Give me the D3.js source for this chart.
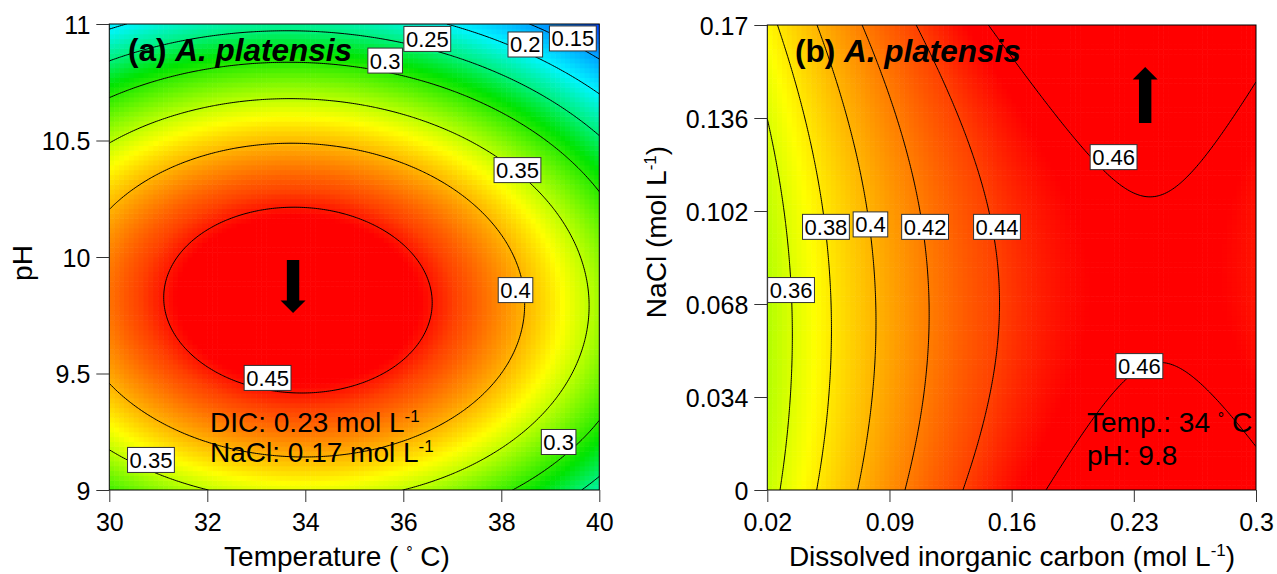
<!DOCTYPE html>
<html><head><meta charset="utf-8">
<script src="https://cdn.jsdelivr.net/npm/d3@7"></script>
<style>body{margin:0;background:#fff}</style>
</head><body><svg id="c" width="1277" height="574"></svg>
<script>
// ---------------- data ----------------
const tempTicks = [30, 32, 34, 36, 38, 40];
const phTicks = [9, 9.5, 10, 10.5, 11];
const dicTicks = [0.02, 0.09, 0.16, 0.23, 0.3];
const naclTicks = [0, 0.034, 0.068, 0.102, 0.136, 0.17];
const tempDomain = [30, 40];
const phDomain = [9, 11];
const dicDomain = [0.02, 0.3];
const naclDomain = [0, 0.17];
const levelsA = [0.15, 0.2, 0.25, 0.3, 0.35, 0.4, 0.45];
const levelsB = [0.36, 0.38, 0.4, 0.42, 0.44, 0.46];
// quadratic response surfaces  f = c0 + cxx*dx^2 + cyy*dy^2 + cxy*dx*dy  (dx,dy from the stationary point)
const stationaryA = [33.85, 9.815];          // Temperature, pH
const coefA = [0.477, -0.0036, -0.17, -0.0014];
const stationaryB = [0.2421, 0.0769];        // DIC, NaCl
const coefB = [0.458, -2.25, 2.163, -0.4215];
// contour labels: [level, x, y] in data units
const labelsA = [[0.25, 36.49, 10.936], [0.3, 35.63, 10.843], [0.2, 38.49, 10.912], [0.15, 39.46, 10.938],
  [0.35, 38.33, 10.373], [0.4, 38.29, 9.858], [0.3, 39.17, 9.206], [0.45, 33.23, 9.481], [0.35, 30.85, 9.129]];
const labelsB = [[0.36, 0.0336, 0.0731], [0.38, 0.0536, 0.0962], [0.4, 0.0791, 0.0971], [0.42, 0.1104, 0.0962],
  [0.44, 0.1516, 0.0962], [0.46, 0.2184, 0.1217], [0.46, 0.2332, 0.0453]];
// arrows: [x, yStart, yTip] in data units
const arrowA = [33.75, 9.987, 9.76];
const arrowB = [0.2365, 0.1342, 0.1546];
// colour ramp
const colorStops = [0.08, 0.14, 0.2, 0.25, 0.285, 0.32, 0.35, 0.372, 0.4, 0.42, 0.44, 0.455];
const colorRamp = ["rgb(0,40,255)", "rgb(0,150,255)", "rgb(0,245,255)", "rgb(0,240,120)", "rgb(0,228,0)",
  "rgb(100,245,0)", "rgb(190,255,0)", "rgb(255,255,0)", "rgb(255,180,0)", "rgb(255,125,0)", "rgb(255,65,0)", "rgb(255,0,0)"];

// ---------------- drawing ----------------
const FONT = '"Liberation Sans", Arial, Helvetica, sans-serif';
const svg = d3.select("#c").attr("font-family", FONT);
const color = d3.scaleLinear().domain(colorStops).range(colorRamp).clamp(true);

function surface(c, k) {
  return (x, y) => { const a = x - c[0], b = y - c[1]; return k[0] + k[1] * a * a + k[2] * b * b + k[3] * a * b; };
}

function panel(cfg) {
  const { xs, ys, f, levels, labels, id, xTicks, yTicks } = cfg;
  const g = svg.append("g");
  const [x0, x1] = xs.domain(), [y0, y1] = ys.domain();
  const [px0, px1] = xs.range(), [py0, py1] = ys.range(); // py0 bottom, py1 top

  svg.append("clipPath").attr("id", id).append("rect")
    .attr("x", px0).attr("y", py1).attr("width", px1 - px0).attr("height", py0 - py1);

  // heat map cells
  const nx = 100, ny = 96;
  const cw = (x1 - x0) / nx, ch = (y1 - y0) / ny;
  const wpx = Math.abs(xs(x0 + cw) - xs(x0)) + 0.6, hpx = Math.abs(ys(y0) - ys(y0 + ch)) + 0.6;
  const heat = g.append("g").attr("clip-path", `url(#${id})`);
  heat.selectAll("rect").data(d3.cross(d3.range(nx), d3.range(ny))).join("rect")
    .attr("x", d => xs(x0 + d[0] * cw))
    .attr("y", d => ys(y0 + (d[1] + 1) * ch))
    .attr("width", wpx).attr("height", hpx)
    .attr("fill", d => color(f(x0 + (d[0] + 0.5) * cw, y0 + (d[1] + 0.5) * ch)));

  // contour lines
  const n = 241, m = 241;
  const vals = new Float64Array(n * m);
  for (let j = 0; j < m; j++) for (let i = 0; i < n; i++)
    vals[j * n + i] = f(x0 + (x1 - x0) * i / (n - 1), y0 + (y1 - y0) * j / (m - 1));
  const proj = d3.geoTransform({
    point(px, py) { this.stream.point(xs(x0 + (x1 - x0) * (px - 0.5) / (n - 1)), ys(y0 + (y1 - y0) * (py - 0.5) / (m - 1))); }
  });
  const path = d3.geoPath(proj);
  g.append("g").attr("clip-path", `url(#${id})`).selectAll("path")
    .data(d3.contours().size([n, m]).thresholds(levels)(vals)).join("path")
    .attr("d", path).attr("fill", "none").attr("stroke", "#000").attr("stroke-width", 1);

  // frame
  g.append("rect").attr("x", px0).attr("y", py1).attr("width", px1 - px0).attr("height", py0 - py1)
    .attr("fill", "none").attr("stroke", "#000").attr("stroke-width", 1);

  // axes
  const ax = g.append("g").attr("transform", `translate(0,${py0})`)
    .call(d3.axisBottom(xs).tickValues(xTicks).tickSize(12).tickFormat(d => String(d)));
  ax.select(".domain").remove();
  ax.attr("font-family", null).attr("font-size", null);
  ax.selectAll("line").attr("stroke", "#333");
  ax.selectAll("text").attr("y", 41).attr("dy", null).attr("font-size", 25).attr("fill", "#000");
  const ay = g.append("g").attr("transform", `translate(${px0},0)`)
    .call(d3.axisLeft(ys).tickValues(yTicks).tickSize(13).tickFormat(d => String(d)));
  ay.select(".domain").remove();
  ay.attr("font-family", null).attr("font-size", null);
  ay.selectAll("line").attr("stroke", "#333");
  ay.selectAll("text").attr("x", -19).attr("dy", "0.36em").attr("font-size", 25).attr("fill", "#000");

  // contour labels
  const lg = g.append("g");
  labels.forEach(([lv, lx, ly]) => {
    const t = lg.append("g").attr("transform", `translate(${xs(lx)},${ys(ly)})`);
    const r = t.append("rect");
    const tx = t.append("text").attr("text-anchor", "middle").attr("dy", "0.36em")
      .attr("font-size", 22).attr("fill", "#000").text(String(lv));
    const bb = tx.node().getBBox();
    r.attr("x", bb.x - 2).attr("y", -12.5).attr("width", bb.width + 4).attr("height", 25)
      .attr("fill", "#fff").attr("stroke", "#333").attr("stroke-width", 1);
  });
  return g;
}

function arrow(g, xs, ys, a) {
  const x = xs(a[0]), yS = ys(a[1]), yT = ys(a[2]);
  const dir = Math.sign(yT - yS), hl = 12.5, hw = 12.5, sw = 6.2;
  const yB = yT - dir * hl;
  g.append("path").attr("fill", "#000")
    .attr("d", `M${x - sw},${yS}L${x + sw},${yS}L${x + sw},${yB}L${x + hw},${yB}L${x},${yT}L${x - hw},${yB}L${x - sw},${yB}Z`);
}

function supText(g, x, y, size, parts) {
  const t = g.append("text").attr("x", x).attr("y", y).attr("font-size", size).attr("fill", "#000");
  parts.forEach(p => {
    const s = t.append("tspan").text(p.t);
    if (p.sup) s.attr("font-size", p.size || 16).attr("dy", -p.sup);
    if (p.down) s.attr("dy", p.down);
    if (p.w) s.attr("font-weight", p.w);
    if (p.i) s.attr("font-style", "italic");
  });
  return t;
}

// panel (a)
const xA = d3.scaleLinear(tempDomain, [109.3, 599.3]);
const yA = d3.scaleLinear(phDomain, [490, 24]);
const gA = panel({ xs: xA, ys: yA, f: surface(stationaryA, coefA), levels: levelsA, labels: labelsA, id: "clipA", xTicks: tempTicks, yTicks: phTicks });
arrow(gA, xA, yA, arrowA);
supText(gA, 128, 61, 31.5, [{ t: "(a) ", w: "bold" }, { t: "A. platensis", w: "bold", i: true }]);
supText(gA, 210, 432, 28, [{ t: "DIC: 0.23 mol L" }, { t: "-1", sup: 10, size: 17 }]);
supText(gA, 210, 462, 28, [{ t: "NaCl: 0.17 mol L" }, { t: "-1", sup: 10, size: 17 }]);
supText(gA, 337, 566, 28, [{ t: "Temperature ( " }, { t: "°", sup: 8, size: 16 }, { t: " C)", down: 8 }]).attr("text-anchor", "middle");
supText(gA, 0, 0, 28, [{ t: "pH" }]).attr("text-anchor", "middle").attr("transform", "translate(32,263) rotate(-90)");

// panel (b)
const xB = d3.scaleLinear(dicDomain, [767.3, 1256]);
const yB = d3.scaleLinear(naclDomain, [490, 25]);
const gB = panel({ xs: xB, ys: yB, f: surface(stationaryB, coefB), levels: levelsB, labels: labelsB, id: "clipB", xTicks: dicTicks, yTicks: naclTicks });
arrow(gB, xB, yB, arrowB);
supText(gB, 795, 62, 31.5, [{ t: "(b) ", w: "bold" }, { t: "A. platensis", w: "bold", i: true }]);
supText(gB, 1087, 432, 28, [{ t: "Temp.: 34 " }, { t: "°", sup: 8, size: 16 }, { t: " C", down: 8 }]);
supText(gB, 1087, 465, 28, [{ t: "pH: 9.8" }]);
supText(gB, 1012, 566, 28, [{ t: "Dissolved inorganic carbon (mol L" }, { t: "-1", sup: 10, size: 17 }, { t: ")", down: 10 }]).attr("text-anchor", "middle");
supText(gB, 0, 0, 28, [{ t: "NaCl (mol L" }, { t: "-1", sup: 10, size: 17 }, { t: ")", down: 10 }]).attr("text-anchor", "middle").attr("transform", "translate(666,232) rotate(-90)");
</script></body></html>
